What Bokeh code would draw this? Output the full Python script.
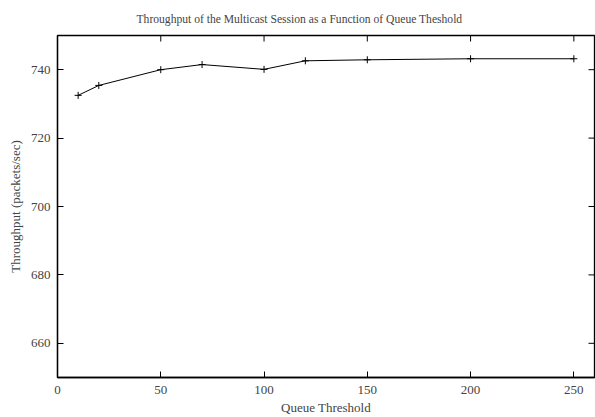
import math
from bokeh.plotting import figure
from bokeh.models import FixedTicker, Range1d
from bokeh.embed import file_html
from bokeh.resources import INLINE

queue_threshold = [10, 20, 50, 70, 100, 120, 150, 200, 250]
throughput = [732.5, 735.4, 740.0, 741.5, 740.1, 742.6, 742.9, 743.2, 743.2]
x_ticks = [0, 50, 100, 150, 200, 250]
y_ticks = [660, 680, 700, 720, 740]
x_min, x_max = 0, 260
y_min, y_max = 650, 750

FONT = "Liberation Serif"

p = figure(width=595, height=417, output_backend="svg", toolbar_location=None,
           x_range=Range1d(x_min, x_max), y_range=Range1d(y_min, y_max),
           title="Throughput of the Multicast Session as a Function of Queue Theshold",
           min_border_left=57, min_border_right=1, min_border_top=35, min_border_bottom=40)

p.title.text_font = FONT
p.title.text_font_size = "11.6px"
p.title.text_font_style = "normal"
p.title.align = "left"
p.title.offset = 79
p.title.standoff = 20

p.grid.visible = False
p.outline_line_color = "black"
p.outline_line_width = 1.3

for ax in (p.xaxis[0], p.yaxis[0]):
    ax.major_label_text_font = FONT
    ax.major_label_text_font_size = "13px"
    ax.axis_label_text_font = FONT
    ax.axis_label_text_font_size = "13px"
    ax.axis_label_text_font_style = "normal"
    ax.major_tick_in = 6
    ax.major_tick_out = 0
    ax.minor_tick_in = 0
    ax.minor_tick_out = 0
    ax.axis_line_color = "black"
    ax.axis_line_width = 1.3

p.xaxis[0].ticker = FixedTicker(ticks=x_ticks)
p.yaxis[0].ticker = FixedTicker(ticks=y_ticks)
p.xaxis[0].axis_label = "Queue Threshold"
p.yaxis[0].axis_label = "Throughput (packets/sec)"
p.xaxis[0].major_label_standoff = 8
p.xaxis[0].axis_label_standoff = 3
p.yaxis[0].major_label_standoff = 7
p.yaxis[0].axis_label_standoff = 5

# mirrored ticks on top and right edges (gnuplot style)
p.ray(x=x_ticks, y=[y_max] * len(x_ticks), length=6, length_units="screen",
      angle=-math.pi / 2, line_color="black", line_width=1)
p.ray(x=[x_max] * len(y_ticks), y=y_ticks, length=6, length_units="screen",
      angle=math.pi, line_color="black", line_width=1)

p.line(queue_threshold, throughput, line_color="black", line_width=1)
p.scatter(queue_threshold, throughput, marker="cross", size=7, line_color="black", line_width=1)

open("out.html", "w").write(file_html(p, INLINE))
